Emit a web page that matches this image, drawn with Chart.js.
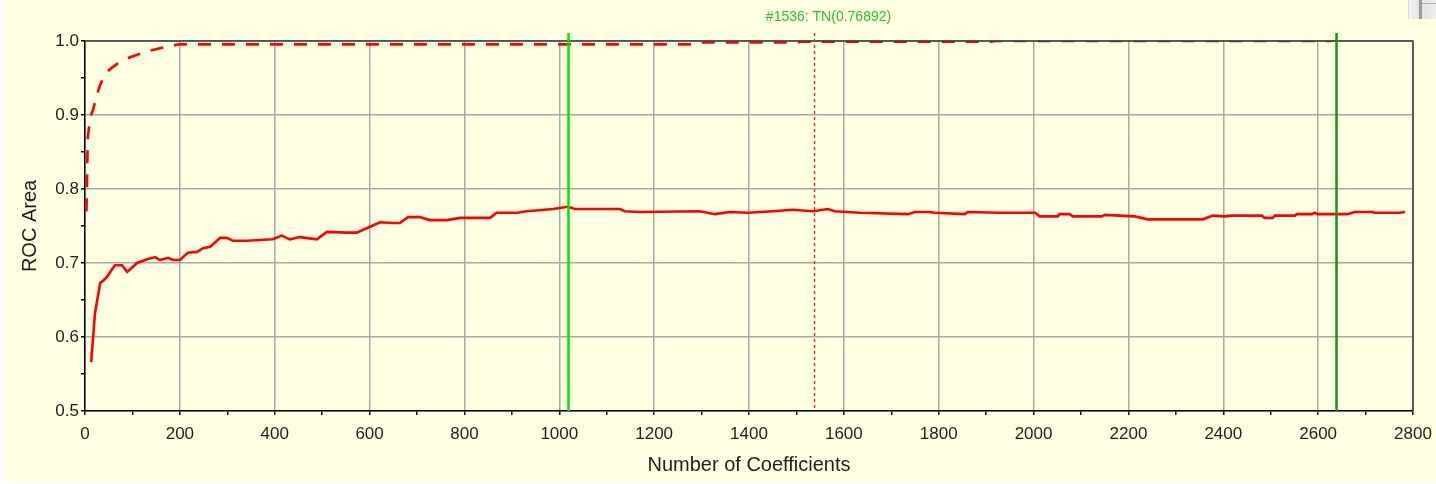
<!DOCTYPE html>
<html>
<head>
<meta charset="utf-8">
<script src="https://cdn.jsdelivr.net/npm/chart.js@4.4.1/dist/chart.umd.min.js"></script>
<style>
  html, body { margin: 0; padding: 0; background: #ffffff; }
  #wrap { position: relative; width: 1436px; height: 484px; }
  #grafico { position: absolute; left: 0; top: 0; }
  #widget {
    position: absolute; left: 1408px; top: 0; width: 28px; height: 19px;
    background: linear-gradient(to right, #f4f4f4, #e2e2e2 40%, #f0f0f0);
    border-left: 1px solid #d8d8d8;
  }
  #widget .barra { position: absolute; left: 10px; top: 0; width: 3px; height: 19px; background: #9a9a9a; }
  #widget .linea { position: absolute; left: 13px; top: 3px; width: 15px; height: 1px; background: #b0b0b0; }
</style>
</head>
<body>
<div id="wrap">
  <canvas id="grafico" width="1436" height="484"></canvas>
  <div id="widget"><div class="barra"></div><div class="linea"></div></div>
</div>
<script>
// === Datos ===
// curva continua (ROC de prueba)
const coefSolida = [13, 21, 32, 40, 46, 63, 78, 89, 110, 131, 148, 158, 175, 186, 200, 217, 236, 249, 264, 285,
  299, 312, 341, 396, 415, 432, 453, 489, 510, 552, 573, 601, 622, 649, 664, 681, 706, 727, 763, 791,
  854, 868, 911, 932, 987, 1018, 1033, 1128, 1138, 1170, 1296, 1328, 1360, 1398, 1450, 1492, 1535, 1566, 1581, 1634,
  1735, 1750, 1781, 1792, 1855, 1861, 1929, 2003, 2013, 2051, 2055, 2076, 2083, 2144, 2150, 2213, 2241, 2357, 2378, 2403,
  2414, 2481, 2487, 2504, 2509, 2551, 2555, 2587, 2593, 2599, 2662, 2677, 2715, 2719, 2772, 2783];
const rocSolida = [0.566, 0.632, 0.673, 0.677, 0.681, 0.697, 0.697, 0.688, 0.700, 0.705, 0.708, 0.704, 0.707, 0.704, 0.704, 0.714, 0.715, 0.720, 0.722, 0.734,
  0.734, 0.730, 0.730, 0.732, 0.737, 0.732, 0.735, 0.732, 0.742, 0.741, 0.741, 0.749, 0.755, 0.754, 0.754, 0.762, 0.762, 0.758, 0.758, 0.761,
  0.761, 0.768, 0.768, 0.770, 0.773, 0.776, 0.773, 0.773, 0.770, 0.769, 0.770, 0.766, 0.769, 0.768, 0.770, 0.772, 0.770, 0.773, 0.770, 0.768,
  0.766, 0.769, 0.769, 0.768, 0.766, 0.769, 0.768, 0.768, 0.763, 0.763, 0.766, 0.766, 0.763, 0.763, 0.765, 0.763, 0.759, 0.759, 0.764, 0.763,
  0.764, 0.764, 0.761, 0.761, 0.764, 0.764, 0.766, 0.766, 0.768, 0.766, 0.766, 0.769, 0.769, 0.768, 0.768, 0.769];

// curva discontinua (ROC de entrenamiento)
const coefDiscontinua = [3, 4, 5, 6, 11, 17, 25, 32, 44, 57, 74, 95, 126, 169, 200, 1280, 1296, 1497, 1510, 1908, 1920, 2630];
const rocDiscontinua = [0.770, 0.800, 0.840, 0.870, 0.897, 0.907, 0.927, 0.941, 0.957, 0.964, 0.972, 0.978, 0.985, 0.992, 0.9955,
  0.9955, 0.998, 0.998, 0.999, 0.999, 1.000, 1.000];

// marcadores verticales
const marcadoresX = [1018, 2637, 1536];
const etiquetaMarcador = "#1536: TN(0.76892)";

// ejes
const ejeX = { min: 0, max: 2800, paso: 100 };
const ejeY = { min: 0.5, max: 1.0, paso: 0.05 };
const tituloX = "Number of Coefficients";
const tituloY = "ROC Area";

// === Estilos ===
const estiloMarcadores = [
  { color: "#00e600", ancho: 2.5, dash: [] },
  { color: "#149614", ancho: 2.5, dash: [] },
  { color: "#ff1a1a", ancho: 1.4, dash: [3, 3] }
];
const fuente = "'Liberation Sans', Arial, sans-serif";

const aPuntos = (xs, ys) => xs.map((x, i) => ({ x: x, y: ys[i] }));

const fondoPlugin = {
  id: "fondo",
  beforeDraw(chart) {
    const ctx = chart.ctx;
    ctx.save();
    ctx.fillStyle = "#ffffe1";
    ctx.fillRect(6, 0, chart.width - 6, chart.height - 1);
    ctx.restore();
  }
};

const marcoPlugin = {
  id: "marco",
  afterDatasetsDraw(chart) {
    const { ctx, chartArea: a, scales } = chart;
    ctx.save();
    // marco del área
    ctx.strokeStyle = "#3a3a3a";
    ctx.lineWidth = 1.5;
    ctx.beginPath();
    ctx.moveTo(a.left, a.top);
    ctx.lineTo(a.right, a.top);
    ctx.lineTo(a.right, a.bottom);
    ctx.stroke();
    // marcadores verticales
    marcadoresX.forEach((v, i) => {
      const st = estiloMarcadores[i];
      const px = Math.round(scales.x.getPixelForValue(v)) + 0.5;
      ctx.strokeStyle = st.color;
      ctx.lineWidth = st.ancho;
      ctx.setLineDash(st.dash);
      ctx.beginPath();
      ctx.moveTo(px, a.top - 8);
      ctx.lineTo(px, a.bottom);
      ctx.stroke();
    });
    ctx.setLineDash([]);
    // etiqueta del marcador
    const pxEt = scales.x.getPixelForValue(marcadoresX[2]);
    ctx.fillStyle = "#2cc22c";
    ctx.font = "14px " + fuente;
    ctx.textAlign = "center";
    ctx.textBaseline = "middle";
    ctx.fillText(etiquetaMarcador, pxEt + 15, 17);
    ctx.restore();
  }
};

const chart = new Chart(document.getElementById("grafico"), {
  type: "line",
  data: {
    datasets: [
      {
        label: "ROC",
        data: aPuntos(coefSolida, rocSolida),
        borderColor: "#ff0000",
        borderWidth: 2.6,
        pointRadius: 0,
        fill: false,
        tension: 0
      },
      {
        label: "ROC entrenamiento",
        data: aPuntos(coefDiscontinua, rocDiscontinua),
        borderColor: "#ff0000",
        borderWidth: 2.6,
        borderDash: [13, 11],
        pointRadius: 0,
        fill: false,
        tension: 0
      }
    ]
  },
  options: {
    responsive: false,
    animation: false,
    events: [],
    layout: { padding: { left: 0, right: 23, top: 41, bottom: 0 } },
    plugins: { legend: { display: false }, tooltip: { enabled: false } },
    scales: {
      x: {
        type: "linear",
        min: ejeX.min, max: ejeX.max,
        afterFit(s) { s.height = 73; s.paddingLeft = 0; s.paddingRight = 0; },
        afterBuildTicks(s) {
          s.ticks = [];
          for (let v = ejeX.min; v <= ejeX.max; v += ejeX.paso) s.ticks.push({ value: v });
        },
        ticks: {
          autoSkip: false, maxRotation: 0, padding: 9,
          color: "#1e1e1e", font: { family: fuente, size: 17 },
          callback: (v, i) => (i % 2 === 0 ? String(v) : "")
        },
        grid: {
          color: c => (c.index % 2 === 0 ? "#a8a8a8" : "rgba(0,0,0,0)"),
          tickColor: "#000",
          tickLength: 4,
          lineWidth: 1.5
        },
        border: { color: "#000", width: 1.5 },
        title: {
          display: true, text: tituloX, color: "#1e1e1e",
          font: { family: fuente, size: 20 }, padding: { top: 0, bottom: 7 }
        }
      },
      y: {
        type: "linear",
        min: ejeY.min, max: ejeY.max,
        afterFit(s) { s.width = 85; s.paddingTop = 0; s.paddingBottom = 0; },
        afterBuildTicks(s) {
          s.ticks = [];
          for (let i = 0; i <= 10; i++) s.ticks.push({ value: +(ejeY.min + i * ejeY.paso).toFixed(2) });
        },
        ticks: {
          autoSkip: false, padding: 2,
          color: "#1e1e1e", font: { family: fuente, size: 17 },
          callback: (v, i) => (i % 2 === 0 ? v.toFixed(1) : "")
        },
        grid: {
          color: c => (c.index % 2 === 0 ? "#a8a8a8" : "rgba(0,0,0,0)"),
          tickColor: "#000",
          tickLength: 4,
          lineWidth: 1.5
        },
        border: { color: "#000", width: 1.5 },
        title: {
          display: true, text: tituloY, color: "#1e1e1e",
          font: { family: fuente, size: 20 }, padding: { top: 18, bottom: 0 }
        }
      }
    }
  },
  plugins: [fondoPlugin, marcoPlugin]
});
</script>
</body>
</html>
